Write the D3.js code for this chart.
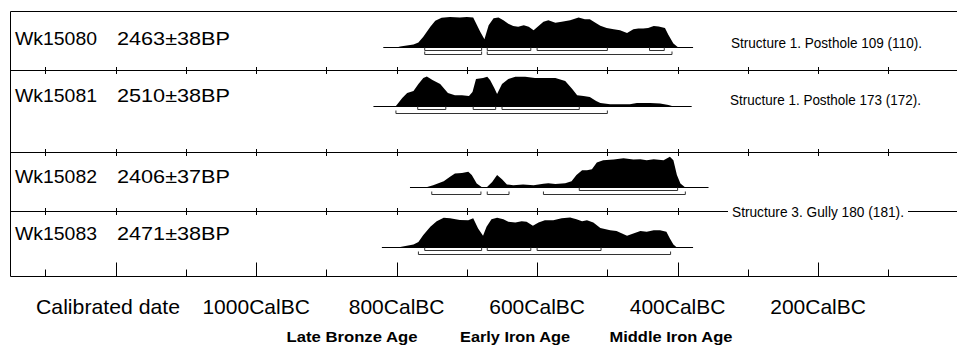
<!DOCTYPE html>
<html><head><meta charset="utf-8">
<script src="https://cdn.jsdelivr.net/npm/d3@7"></script>
<style>
body{margin:0;background:#fff}
svg{display:block}
text{font-family:"Liberation Sans",Arial,sans-serif;fill:#000}
</style>
</head><body>
<svg id="chart" width="957" height="347"></svg>
<script>
// ---------- DATA ----------
const sampleIds = ["Wk15080", "Wk15081", "Wk15082", "Wk15083"];
const sampleAges = ["2463±38BP", "2510±38BP", "2406±37BP", "2471±38BP"];
const contextLabels = ["Structure 1. Posthole 109 (110).", "Structure 1. Posthole 173 (172).", "Structure 3. Gully 180 (181)."];

// [calendar year BC, relative probability]
const wk15080 = [[819,0],[800,0],[795,.03],[776,.10],[769,.16],[762,.35],[752,.67],[745,.86],[736,.96],[724,.98],[710,.97],[700,.98],[691,.97],[681,.51],[675,.27],[669,.72],[662,.94],[655,.97],[648,.88],[641,.77],[634,.69],[627,.67],[619,.72],[612,.67],[605,.56],[598,.69],[591,.83],[584,.88],[574,.80],[565,.83],[553,.88],[541,.97],[532,.91],[525,.91],[517,.80],[510,.70],[501,.63],[491,.59],[482,.56],[472,.47],[463,.59],[456,.61],[449,.61],[442,.63],[434,.69],[427,.68],[418,.63],[413,.40],[406,.13],[399,0],[378,0]];
const wk15081 = [[833,0],[801,0],[792,.26],[785,.42],[776,.48],[769,.71],[762,.90],[757,.95],[749,.84],[738,.71],[727,.42],[717,.35],[707,.35],[697,.32],[692,.45],[687,.87],[677,.90],[671,.94],[667,.84],[661,.58],[657,.39],[650,.71],[641,.87],[631,.94],[617,.94],[603,.90],[589,.90],[574,.90],[560,.81],[550,.55],[543,.35],[534,.32],[525,.29],[516,.16],[510,.10],[496,.06],[468,.06],[458,.10],[439,.10],[425,.08],[413,.03],[408,0],[380,0]];
const wk15082 = [[781,0],[759,0],[748,.07],[733,.20],[724,.35],[717,.45],[707,.47],[698,.51],[693,.40],[686,.13],[679,.02],[672,0],[664,.18],[657,.40],[650,.27],[643,.10],[634,.07],[620,.10],[605,.07],[591,.12],[584,.14],[574,.11],[560,.14],[551,.20],[544,.40],[536,.56],[529,.56],[522,.59],[515,.81],[506,.88],[491,.90],[477,.94],[463,.90],[453,.91],[444,.88],[434,.91],[420,.88],[411,.99],[406,.88],[401,.40],[396,.13],[389,0],[356,0]];
const wk15083 = [[821,0],[795,.02],[776,.10],[769,.18],[762,.40],[752,.67],[743,.85],[733,.96],[724,.94],[710,.89],[698,.88],[691,.94],[684,.61],[677,.38],[672,.67],[665,.91],[657,.96],[648,.91],[641,.83],[631,.81],[622,.85],[615,.83],[606,.70],[598,.81],[589,.88],[577,.88],[565,.94],[553,.97],[544,.91],[536,.85],[529,.88],[520,.81],[510,.63],[496,.56],[487,.53],[472,.38],[463,.45],[453,.53],[444,.51],[434,.56],[425,.56],[416,.51],[411,.29],[406,.10],[401,0],[378,0]];

// 68.2% and 95.4% ranges (cal BC)
const ranges68 = [
  [[760,679],[671,609],[600,500],[440,419]],
  [[770,730],[691,659],[650,540]],
  [[540,400]],
  [[760,679],[671,609],[600,509]]
];
const ranges95 = [
  [[760,679],[671,408]],
  [[801,500]],
  [[750,680],[671,640],[591,389]],
  [[769,410]]
];

const minorTickYears = [1300, 1100, 900, 700, 500, 300, 100];
const majorTickYears = [1200, 1000, 800, 600, 400, 200];
const tickLabelYears = [1000, 800, 600, 400, 200];
const axisTitle = "Calibrated date";
const periodLabels = ["Late Bronze Age", "Early Iron Age", "Middle Iron Age"];

const distributions = [wk15080, wk15081, wk15082, wk15083];

// ---------- LAYOUT ----------
const W = 957;
const frameLeft = 10.5, frameTop = 11.5, frameBottom = 276.5;
const dividerY = [70.5, 152.5, 211.5];
const baselines = [47.5, 106, 187.5, 247.5];
const labelBaselines = [45, 102, 183, 240];
const curveH = 31;
const gapStart = 728, gapEnd = 908;

const svg = d3.select("#chart");

const x = d3.scaleLinear().domain([1300, 0]).range([45.4, 958.6]);
const xr = x.copy().interpolate(d3.interpolateRound);
const allTicks = minorTickYears.concat(majorTickYears).sort((a,b)=>b-a);

// frame
svg.append("path")
  .attr("d", `M${W},${frameTop}H${frameLeft}V${frameBottom}H${W}`)
  .attr("fill", "none").attr("stroke", "#000").attr("stroke-width", 1);

// dividers with crossing ticks
dividerY.forEach((y, i) => {
  const g = svg.append("g");
  if (i === 2) {
    g.append("line").attr("x1", frameLeft).attr("x2", gapStart).attr("y1", y).attr("y2", y).attr("stroke", "#000");
    g.append("line").attr("x1", gapEnd).attr("x2", W).attr("y1", y).attr("y2", y).attr("stroke", "#000");
  } else {
    g.append("line").attr("x1", frameLeft).attr("x2", W).attr("y1", y).attr("y2", y).attr("stroke", "#000");
  }
  g.selectAll("line.t").data(allTicks.filter(d => i !== 2 || xr(d) < gapStart || xr(d) > gapEnd))
    .join("line").attr("class", "t")
    .attr("x1", d => xr(d) + 0.5).attr("x2", d => xr(d) + 0.5)
    .attr("y1", y - 3.5).attr("y2", y + 3.5)
    .attr("stroke", "#000");
});

// bottom axis ticks (pointing up)
const axisG = svg.append("g").attr("transform", `translate(0,${frameBottom})`);
axisG.append("g").call(d3.axisBottom(xr).tickValues(minorTickYears).tickSize(-7).tickFormat(""))
  .call(g => g.select(".domain").remove());
axisG.append("g").call(d3.axisBottom(xr).tickValues(majorTickYears).tickSize(-14).tickFormat(""))
  .call(g => g.select(".domain").remove());
axisG.selectAll(".tick line").attr("stroke", "#000");

// axis labels
svg.append("text").attr("x", 36).attr("y", 314).attr("font-size", 21)
  .attr("textLength", 144).attr("lengthAdjust", "spacingAndGlyphs").text(axisTitle);
svg.selectAll("text.tl").data(tickLabelYears).join("text").attr("class", "tl")
  .attr("x", d => x(d)).attr("y", 314).attr("text-anchor", "middle").attr("font-size", 21)
  .text(d => d + "CalBC");

const periodX = [352, 515, 671];
const periodW = [131, 110, 123];
svg.selectAll("text.period").data(periodLabels).join("text").attr("class", "period")
  .attr("x", (d, i) => periodX[i] - periodW[i] / 2).attr("y", 342)
  .attr("textLength", (d, i) => periodW[i]).attr("lengthAdjust", "spacingAndGlyphs")
  .attr("font-size", 15).attr("font-weight", "bold").text(d => d);

// sample labels
const idG = svg.append("g");
idG.selectAll("text.id").data(sampleIds).join("text").attr("class", "id")
  .attr("x", 15).attr("y", (d, i) => labelBaselines[i]).attr("font-size", 19)
  .attr("textLength", 82).attr("lengthAdjust", "spacingAndGlyphs").text(d => d);
idG.selectAll("text.age").data(sampleAges).join("text").attr("class", "age")
  .attr("x", 117).attr("y", (d, i) => labelBaselines[i]).attr("font-size", 19)
  .attr("textLength", 113).attr("lengthAdjust", "spacingAndGlyphs").text(d => d);

// context labels
const ctxPos = [[731, 47.5], [730, 104.5], [732, 216.5]];
const ctxW = [191, 191, 172];
svg.selectAll("text.ctx").data(contextLabels).join("text").attr("class", "ctx")
  .attr("x", (d, i) => ctxPos[i][0]).attr("y", (d, i) => ctxPos[i][1])
  .attr("textLength", (d, i) => ctxW[i]).attr("lengthAdjust", "spacingAndGlyphs")
  .attr("font-size", 14.5).text(d => d);

// distributions
distributions.forEach((data, i) => {
  const b = baselines[i];
  const y = d3.scaleLinear().domain([0, 1]).range([b, b - curveH]);
  const area = d3.area().x(d => x(d[0])).y0(b).y1(d => y(d[1]));
  svg.append("path").datum(data).attr("d", area).attr("fill", "#000");
  const ext = d3.extent(data, d => d[0]);
  svg.append("line").attr("x1", x(ext[1])).attr("x2", x(ext[0]))
    .attr("y1", Math.floor(b) + 0.5).attr("y2", Math.floor(b) + 0.5).attr("stroke", "#000");

  const bracket = (r, off) => {
    const yy = Math.floor(b) + off + 0.5;
    return `M${x(r[0])},${yy - 3}V${yy}H${x(r[1])}V${yy - 3}`;
  };
  svg.selectAll(null).data(ranges68[i]).join("path")
    .attr("d", r => bracket(r, 3)).attr("fill", "none").attr("stroke", "#333");
  svg.selectAll(null).data(ranges95[i]).join("path")
    .attr("d", r => bracket(r, 7)).attr("fill", "none").attr("stroke", "#333");
});
</script>
</body></html>
